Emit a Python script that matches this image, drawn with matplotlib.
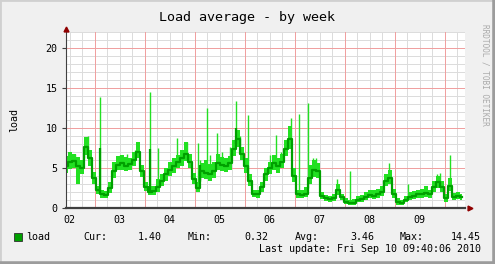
import numpy as np
import matplotlib.pyplot as plt
from matplotlib.lines import Line2D

# ----------------------------------------------------------
# Data (days since Thu Sep 02 00:00, sampled every ~2h)
# ----------------------------------------------------------
start_day = 0.43
step_day = 0.08

load_avg = [5.2, 5.8, 5.9, 5.2, 5.0, 7.6, 6.2, 3.8, 2.2, 1.7,
            1.6, 2.5, 4.6, 5.4, 5.6, 5.3, 5.5, 6.0, 7.0, 4.6,
            2.6, 2.0, 2.1, 2.6, 3.4, 4.2, 4.8, 5.2, 5.8, 6.2,
            6.8, 5.8, 3.6, 2.5, 4.6, 4.4, 4.2, 4.6, 5.6, 5.4,
            5.3, 5.6, 7.4, 8.6, 6.8, 5.2, 3.4, 1.8, 1.7, 2.6,
            4.2, 5.0, 5.6, 5.2, 5.8, 7.4, 8.6, 4.0, 1.7, 1.6,
            1.8, 3.8, 4.7, 4.6, 1.5, 1.2, 1.1, 1.3, 2.2, 1.4,
            0.8, 0.6, 0.6, 1.0, 1.1, 1.4, 1.6, 1.5, 1.7, 2.0,
            3.4, 3.8, 1.8, 0.7, 0.6, 1.0, 1.4, 1.5, 1.7, 1.8,
            1.9, 1.7, 2.6, 3.2, 2.6, 1.2, 2.8, 1.4, 1.5, 1.4]

load_hi = [6.5, 7.0, 6.8, 6.4, 6.0, 8.9, 7.2, 4.5, 2.8, 2.3,
           2.1, 3.2, 5.8, 6.5, 6.6, 6.4, 6.3, 7.0, 8.3, 5.4,
           3.3, 2.8, 2.7, 3.6, 4.2, 5.0, 5.8, 6.2, 6.6, 7.2,
           8.3, 6.8, 4.4, 3.2, 5.6, 6.0, 5.5, 5.8, 6.8, 6.4,
           6.2, 6.5, 8.5, 9.8, 7.6, 6.2, 4.2, 2.3, 2.3, 3.2,
           5.0, 5.8, 6.6, 6.2, 6.8, 8.5, 10.3, 5.0, 2.3, 2.2,
           2.6, 5.4, 6.0, 5.6, 2.0, 1.6, 1.5, 1.8, 3.0, 1.8,
           1.2, 1.0, 1.1, 1.5, 1.6, 2.0, 2.2, 2.2, 2.4, 2.8,
           4.2, 4.8, 2.4, 1.2, 1.0, 1.5, 2.0, 2.1, 2.3, 2.4,
           2.8, 2.3, 3.4, 4.0, 3.4, 1.8, 3.8, 1.9, 2.0, 1.8]

load_lo = [4.4, 4.9, 5.0, 3.0, 4.2, 6.6, 5.3, 3.0, 1.7, 1.3,
           1.2, 1.9, 3.8, 4.7, 4.8, 4.6, 4.7, 5.2, 6.2, 3.9,
           2.1, 1.6, 1.6, 2.0, 2.7, 3.4, 4.0, 4.4, 5.0, 5.3,
           5.9, 5.0, 3.0, 2.0, 3.8, 3.6, 3.4, 3.8, 4.8, 4.6,
           4.5, 4.8, 6.5, 7.6, 6.0, 4.4, 2.7, 1.4, 1.3, 2.0,
           3.4, 4.2, 4.8, 4.4, 5.0, 6.5, 7.4, 3.2, 1.3, 1.2,
           1.4, 3.0, 3.9, 3.8, 1.1, 0.9, 0.8, 0.9, 1.6, 1.0,
           0.5, 0.4, 0.32, 0.7, 0.8, 1.0, 1.2, 1.1, 1.3, 1.5,
           2.7, 3.0, 1.3, 0.4, 0.4, 0.7, 1.0, 1.1, 1.3, 1.3,
           1.4, 1.2, 2.0, 2.5, 2.0, 0.8, 2.1, 1.0, 1.1, 1.0]

# short-lived peaks (max samples)
spike_day = [0.51, 0.61, 0.79, 0.87, 1.10, 1.51, 1.65, 1.81, 1.85, 2.10,
             2.27, 2.55, 2.65, 2.77, 2.85, 3.07, 3.11, 3.24, 3.31, 3.45,
             3.55, 3.71, 3.83, 3.91, 4.07, 4.51, 4.63, 4.73, 4.83, 4.93,
             5.09, 5.26, 5.37, 5.43, 5.85, 6.11, 6.89, 7.27, 7.85, 7.91,
             8.11]
spike_max = [7.0, 6.8, 7.5, 9.0, 13.9, 6.6, 6.8, 7.2, 8.3, 14.45,
             7.5, 5.9, 8.7, 7.0, 8.2, 8.1, 6.0, 12.5, 6.6, 9.4,
             7.0, 7.6, 13.4, 9.0, 11.6, 6.6, 9.1, 7.0, 8.4, 11.3,
             11.8, 13.1, 6.2, 6.3, 3.6, 4.6, 5.6, 3.0, 4.2, 4.4,
             6.6]
spike_avg_day = [1.10, 2.10, 3.10, 3.83]
spike_avg = [7.5, 7.4, 5.4, 10.0]

day_labels = ['02', '03', '04', '05', '06', '07', '08', '09']
y_ticks = [0, 5, 10, 15, 20]

stat_cur, stat_min, stat_avg, stat_max = 1.40, 0.32, 3.46, 14.45

# ----------------------------------------------------------
# Figure
# ----------------------------------------------------------
W, H = 495, 264
plt.rcParams['font.family'] = 'DejaVu Sans Mono'
fig = plt.figure(figsize=(W / 100, H / 100), dpi=100, facecolor='#F0F0F0')
ax = fig.add_axes([66 / W, 1 - 208 / H, 399 / W, 176 / H], facecolor='white')

days = start_day + step_day * np.arange(len(load_avg))
ax.set_xlim(0.43, 8.41)
ax.set_ylim(0, 22)

# grid (1px lines)
for d in np.arange(0.5, 8.5, 0.25):
    if d % 1 != 0:
        ax.axvline(d, color='#DCDCDC', lw=0.72, zorder=0)
for v in range(1, 23):
    if v % 5 != 0:
        ax.axhline(v, color='#DCDCDC', lw=0.72, zorder=0)
for d in range(1, 9):
    ax.axvline(d, color='#F0A0A0', lw=0.72, zorder=0.5)
for v in y_ticks[1:]:
    ax.axhline(v, color='#F0A0A0', lw=0.72, zorder=0.5)

# data
ax.fill_between(days, load_lo, load_hi, color='#22E022', lw=0, step='mid', zorder=2)
spike_base = np.interp(spike_day, days, load_avg)
ax.vlines(spike_day, spike_base, spike_max, color='#22E022', lw=1.0, zorder=2)
ax.plot(days, load_avg, color='#00A000', lw=1.6, drawstyle='steps-mid', zorder=3)
avg_base = np.interp(spike_avg_day, days, load_avg)
ax.vlines(spike_avg_day, avg_base, spike_avg, color='#00A000', lw=1.6, zorder=3)

# axes
for s in ['top', 'right']:
    ax.spines[s].set_visible(False)
ax.spines['left'].set_color('#404040')
ax.spines['left'].set_linewidth(0.8)
ax.spines['bottom'].set_color('#404040')
ax.spines['bottom'].set_linewidth(1.6)
ax.spines['left'].set_zorder(5)
ax.spines['bottom'].set_zorder(5)
ax.plot([0.43], [22.4], marker='^', color='#900000', ms=3.5, clip_on=False, zorder=6)
ax.plot([8.50], [0], marker='>', color='#900000', ms=3.5, clip_on=False, zorder=6)

ax.set_yticks(y_ticks)
ax.set_yticklabels([str(v) for v in y_ticks])
ax.set_xticks([i + 0.5 for i in range(len(day_labels))])
ax.set_xticklabels(day_labels)
ax.tick_params(axis='y', length=3, width=0.8, color='#404040', pad=3, labelsize=7.2)
ax.tick_params(axis='x', length=0, pad=5, labelsize=7.2)

# texts
fig.text(247 / W, 1 - 17 / H, 'Load average - by week', ha='center', va='center',
         fontsize=9.6)
fig.text(14 / W, 1 - 120 / H, 'load', ha='center', va='center', rotation=90,
         fontsize=7.2)
fig.text(485 / W, 1 - 24 / H, 'RRDTOOL / TOBI OETIKER', ha='center', va='top',
         rotation=270, fontsize=5.6, color='#AAAAAA')

ly = 1 - 237 / H
fig.patches.append(plt.Rectangle((14 / W, 1 - 241 / H), 8 / W, 8 / H,
                                 transform=fig.transFigure, facecolor='#00A000',
                                 edgecolor='#303030', lw=0.6))
fig.text(26 / W, ly, 'load', va='center', fontsize=7.2)
fig.text(83 / W, ly, 'Cur:', va='center', fontsize=7.2)
fig.text(162 / W, ly, f'{stat_cur:.2f}', ha='right', va='center', fontsize=7.2)
fig.text(188 / W, ly, 'Min:', va='center', fontsize=7.2)
fig.text(268 / W, ly, f'{stat_min:.2f}', ha='right', va='center', fontsize=7.2)
fig.text(295 / W, ly, 'Avg:', va='center', fontsize=7.2)
fig.text(374 / W, ly, f'{stat_avg:.2f}', ha='right', va='center', fontsize=7.2)
fig.text(400 / W, ly, 'Max:', va='center', fontsize=7.2)
fig.text(481 / W, ly, f'{stat_max:.2f}', ha='right', va='center', fontsize=7.2)
fig.text(481 / W, 1 - 249 / H, 'Last update: Fri Sep 10 09:40:06 2010', ha='right',
         va='center', fontsize=7.2)

# outer bevel border
fig.add_artist(Line2D([0, 0, 1], [0, 1, 1], transform=fig.transFigure,
                      color='#D0D0D0', lw=2))
fig.add_artist(Line2D([0, 1, 1], [0, 0, 1], transform=fig.transFigure,
                      color='#9C9C9C', lw=4))

fig.savefig('out.png', dpi=100, facecolor=fig.get_facecolor())
